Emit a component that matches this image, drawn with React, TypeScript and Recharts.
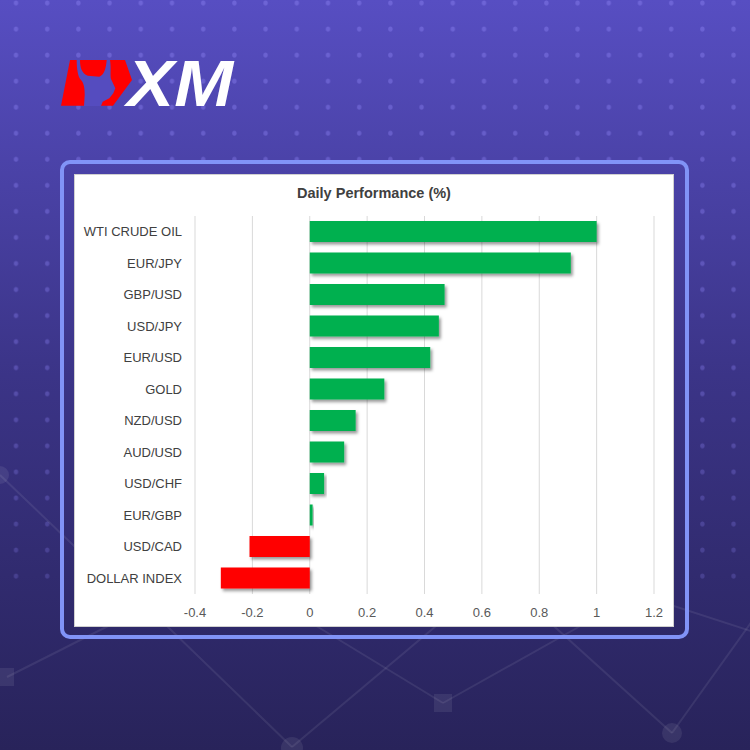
import React from "react";
import { BarChart, Bar, XAxis, YAxis, CartesianGrid, Cell } from "recharts";

const categories = [
  "WTI CRUDE OIL",
  "EUR/JPY",
  "GBP/USD",
  "USD/JPY",
  "EUR/USD",
  "GOLD",
  "NZD/USD",
  "AUD/USD",
  "USD/CHF",
  "EUR/GBP",
  "USD/CAD",
  "DOLLAR INDEX",
];
const performance = [1.0, 0.91, 0.47, 0.45, 0.42, 0.26, 0.16, 0.12, 0.05, 0.01, -0.21, -0.31];
const xTicks = [-0.4, -0.2, 0, 0.2, 0.4, 0.6, 0.8, 1, 1.2];
const chartTitle = "Daily Performance (%)";

const data = categories.map((name, i) => ({ name, value: performance[i] }));

const FONT = "'Liberation Sans', Arial, sans-serif";

const BarShape = (props: any) => {
  const { x, y, width, height, fill } = props;
  const x0 = width < 0 ? x + width : x;
  const w = Math.abs(width);
  const y0 = height < 0 ? y + height : y;
  const h = Math.abs(height);
  return <rect x={x0} y={y0} width={w} height={h} fill={fill} filter="url(#barShadow)" />;
};

const Background = () => (
  <svg
    width={750}
    height={750}
    style={{ position: "absolute", left: 0, top: 0 }}
  >
    <defs>
      <linearGradient id="bgGrad" x1="0" y1="0" x2="0" y2="1">
        <stop offset="0" stopColor="#574ec2" />
        <stop offset="0.5" stopColor="#3b3487" />
        <stop offset="1" stopColor="#28235a" />
      </linearGradient>
      <pattern id="dots" x={0} y={0} width={31.2} height={26.05} patternUnits="userSpaceOnUse">
        <ellipse cx={16} cy={3} rx={2.2} ry={2.6} fill="#8a80f0" />
      </pattern>
      <linearGradient id="dotFade" x1="0" y1="0" x2="0" y2="1">
        <stop offset="0" stopColor="#fff" stopOpacity={0.45} />
        <stop offset="0.5" stopColor="#fff" stopOpacity={0.35} />
        <stop offset="0.78" stopColor="#fff" stopOpacity={0.25} />
        <stop offset="0.8" stopColor="#fff" stopOpacity={0} />
        <stop offset="1" stopColor="#fff" stopOpacity={0} />
      </linearGradient>
      <mask id="dotMask">
        <rect x={0} y={0} width={750} height={750} fill="url(#dotFade)" />
      </mask>
      <filter id="barShadow" x="-10%" y="-20%" width="130%" height="160%">
        <feDropShadow dx={2} dy={2.5} stdDeviation={1.5} floodColor="#000" floodOpacity={0.4} />
      </filter>
    </defs>
    <rect x={0} y={0} width={750} height={750} fill="url(#bgGrad)" />
    <rect x={0} y={0} width={750} height={750} fill="url(#dots)" mask="url(#dotMask)" />
    <g stroke="rgba(255,255,255,0.08)" strokeWidth={2} fill="none">
      <line x1={0} y1={475} x2={120} y2={590} />
      <line x1={7} y1={677} x2={130} y2={615} />
      <line x1={140} y1={600} x2={292} y2={747} />
      <line x1={290} y1={610} x2={443} y2={703} />
      <line x1={292} y1={747} x2={455} y2={610} />
      <line x1={443} y1={703} x2={600} y2={615} />
      <line x1={525} y1={600} x2={672} y2={733} />
      <line x1={672} y1={733} x2={760} y2={610} />
      <line x1={640} y1={595} x2={760} y2={634} />
    </g>
    <g fill="rgba(255,255,255,0.08)">
      <circle cx={0} cy={475} r={9} />
      <rect x={0} y={668} width={14} height={18} />
      <circle cx={292} cy={748} r={11} />
      <rect x={434} y={694} width={18} height={18} />
      <circle cx={672} cy={733} r={10} />
    </g>
    {/* XM logo */}
    <polygon points="70,60 125,60 132,80 113,105.7 61,105.7" fill="#ff0000" />
    <path
      d="M76.7,60 L80,60 C80,68.3 82,73.3 87.7,75.7 L99.3,76.7 C104.3,75 106,68.3 106.7,60 L110,60 C111.3,68.3 110,75 111,79 L115.3,88.3 L113.3,93.3 L109.3,98.3 L102.7,101.7 L101,106 L84,106 L84.7,95 C84.7,88.3 84,83.3 81,80 C77.7,76.7 76.7,68.3 76.7,60 Z"
      fill="#554cbf"
    />
    <text
      x={127}
      y={106}
      fontSize={64}
      fontWeight={900}
      fontStyle="italic"
      fill="#ffffff"
      fontFamily={FONT}
      textLength={106}
      lengthAdjust="spacingAndGlyphs"
    >
      XM
    </text>
  </svg>
);

export default function App() {
  return (
    <div
      style={{
        position: "absolute",
        left: 0,
        top: 0,
        width: 750,
        height: 750,
        overflow: "hidden",
        fontFamily: FONT,
      }}
    >
      <Background />
      <div
        style={{
          position: "absolute",
          left: 60,
          top: 160,
          width: 621,
          height: 471,
          border: "4px solid #8193f7",
          borderRadius: 10,
        }}
      />
      <div
        style={{
          position: "absolute",
          left: 75,
          top: 175,
          width: 598,
          height: 451,
          background: "#ffffff",
          boxShadow: "0 0 0 1px #d0d0d0",
        }}
      >
        <div
          style={{
            position: "absolute",
            left: 0,
            top: 10,
            width: 598,
            textAlign: "center",
            fontSize: 14.5,
            fontWeight: "bold",
            color: "#404040",
            fontFamily: FONT,
          }}
        >
          {chartTitle}
        </div>
        <BarChart
          width={598}
          height={451}
          data={data}
          layout="vertical"
          margin={{ top: 41, right: 19, left: 0, bottom: 0 }}
          barSize={21}
        >
          <CartesianGrid horizontal={false} vertical={true} stroke="#d9d9d9" strokeWidth={1} />
          <XAxis
            type="number"
            dataKey="value"
            domain={[-0.4, 1.2]}
            ticks={xTicks}
            interval={0}
            allowDataOverflow
            axisLine={false}
            tickLine={false}
            height={32}
            tickSize={0}
            tickMargin={14}
            tickFormatter={(v: number) => String(v)}
            tick={{ fontSize: 13, fill: "#595959", fontFamily: FONT }}
          />
          <YAxis
            type="category"
            dataKey="name"
            width={120}
            axisLine={false}
            tickLine={false}
            tickSize={0}
            tickMargin={13}
            interval={0}
            tick={{ fontSize: 13, fill: "#404040", fontFamily: FONT }}
          />
          <Bar dataKey="value" isAnimationActive={false} shape={BarShape}>
            {data.map((d, i) => (
              <Cell key={i} fill={d.value >= 0 ? "#00b050" : "#ff0000"} />
            ))}
          </Bar>
        </BarChart>
      </div>
    </div>
  );
}
